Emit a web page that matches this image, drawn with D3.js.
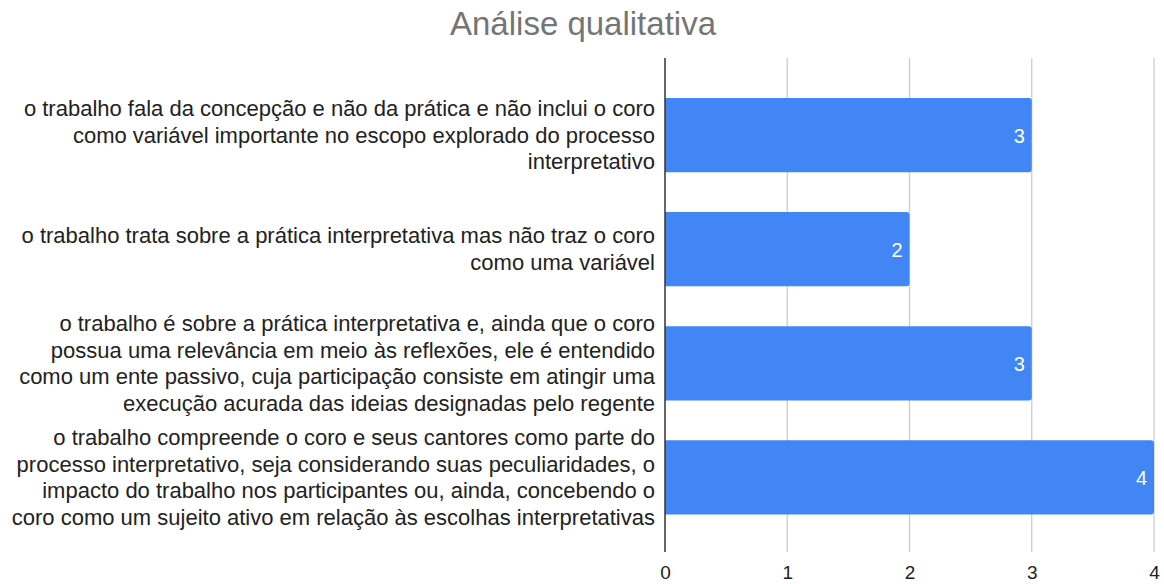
<!DOCTYPE html>
<html><head><meta charset="utf-8">
<script src="https://cdn.jsdelivr.net/npm/d3@7"></script>
<style>body{margin:0;background:#fff;} svg{display:block;}</style>
</head><body>
<svg id="c" width="1164" height="584"></svg>
<script>
const title = "Análise qualitativa";
const categories = [
  ["o trabalho fala da concepção e não da prática e não inclui o coro", "como variável importante no escopo explorado do processo", "interpretativo"],
  ["o trabalho trata sobre a prática interpretativa mas não traz o coro", "como uma variável"],
  ["o trabalho é sobre a prática interpretativa e, ainda que o coro", "possua uma relevância em meio às reflexões, ele é entendido", "como um ente passivo, cuja participação consiste em atingir uma", "execução acurada das ideias designadas pelo regente"],
  ["o trabalho compreende o coro e seus cantores como parte do", "processo interpretativo, seja considerando suas peculiaridades, o", "impacto do trabalho nos participantes ou, ainda, concebendo o", "coro como um sujeito ativo em relação às escolhas interpretativas"]
];
const values = [3, 2, 3, 4];
const xTicks = [0, 1, 2, 3, 4];

const svg = d3.select("#c");
const font = "'Liberation Sans', Arial, sans-serif";
const x = d3.scaleLinear().domain([0, 4]).range([665, 1154]);
const y = d3.scaleBand().domain(d3.range(categories.length)).range([78, 534.5]).paddingInner(0.35).paddingOuter(0.175);

svg.append("text").attr("x", 583).attr("y", 35).attr("text-anchor", "middle")
  .attr("font-family", font).attr("font-size", 33).attr("fill", "#757575").text(title);

// gridlines
svg.append("g").selectAll("line").data(xTicks.slice(1)).join("line")
  .attr("x1", d => x(d)).attr("x2", d => x(d)).attr("y1", 58).attr("y2", 552)
  .attr("stroke", "#cccccc").attr("stroke-width", 1.3);

// bars
const r = 3;
svg.append("g").selectAll("path").data(values).join("path")
  .attr("d", (d, i) => {
    const x0 = x(0), x1 = x(d), y0 = y(i), h = y.bandwidth();
    return `M${x0},${y0}H${x1 - r}Q${x1},${y0} ${x1},${y0 + r}V${y0 + h - r}Q${x1},${y0 + h} ${x1 - r},${y0 + h}H${x0}Z`;
  })
  .attr("fill", "#4285f4");

// value labels
svg.append("g").selectAll("text").data(values).join("text")
  .attr("x", d => x(d) - 7).attr("y", (d, i) => y(i) + y.bandwidth() / 2 + 7.5)
  .attr("text-anchor", "end").attr("font-family", font).attr("font-size", 20).attr("fill", "#ffffff")
  .text(d => d);

// axis line
svg.append("line").attr("x1", x(0)).attr("x2", x(0)).attr("y1", 58).attr("y2", 552)
  .attr("stroke", "#333333").attr("stroke-width", 1.5);

// x tick labels
const xAxis = d3.axisBottom(x).tickValues(xTicks).tickSize(0).tickPadding(0).tickFormat(d3.format("d"));
const gx = svg.append("g").attr("transform", "translate(0,579)").call(xAxis);
gx.select(".domain").remove();
gx.selectAll("text").attr("font-family", font).attr("font-size", 19).attr("fill", "#222222").attr("dy", "0");

// category labels
const lh = 26.5;
const g = svg.append("g");
categories.forEach((lines, i) => {
  const cy = y(i) + y.bandwidth() / 2;
  const t = g.append("text").attr("text-anchor", "end").attr("font-family", font)
    .attr("font-size", 22).attr("fill", "#222222");
  lines.forEach((ln, j) => {
    t.append("tspan").attr("x", 655).attr("y", cy + (j - (lines.length - 1) / 2) * lh + 7.5).text(ln);
  });
});
</script>
</body></html>
